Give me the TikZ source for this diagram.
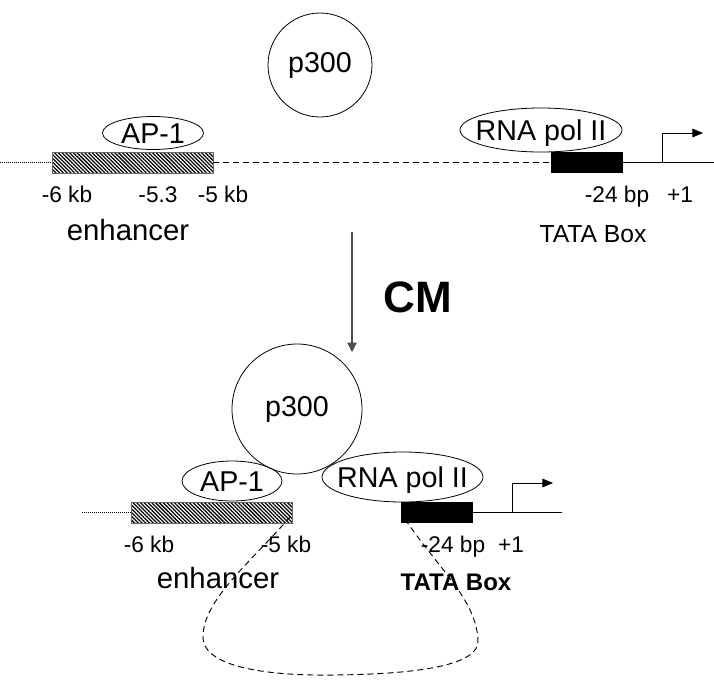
\documentclass[tikz,border=0pt]{standalone}
\usepackage{fontspec}
\setmainfont{Liberation Sans}
\usetikzlibrary{shapes.geometric,positioning,arrows.meta,patterns.meta}

\begin{document}
\begin{tikzpicture}[x=0.75pt,y=-0.75pt]
    \tikzset{protein/.style={
        ellipse, draw, line width=0.6pt, inner xsep=-12pt, inner ysep=0pt,
        text height=15.5pt, text depth=0pt, font=\fontsize{21.5}{24}\selectfont
      },
      complex/.style={circle, draw, line width=0.6pt, inner sep=0pt, font=\fontsize{21.5}{24}\selectfont},
      enhbox/.style={draw=black!60, line width=0.3pt, inner sep=0pt,
        minimum width=120.5pt, minimum height=15.5pt,
        pattern={Lines[angle=-45,distance=2pt,line width=0.95pt]}
      },
      tatabox/.style={fill=black, inner sep=0pt, minimum width=54pt, minimum height=15.5pt},
      poslabel/.style={font=\fontsize{17}{20}\selectfont, inner sep=0pt, anchor=base},
      region/.style={font=\fontsize{22}{26}\selectfont, inner sep=0pt, anchor=base},
      dna/.style={line width=0.7pt},
      dnadot/.style={line width=0.5pt, densely dotted},
      dnadash/.style={line width=0.7pt, dash pattern=on 4.5pt off 3pt},
      tss/.style={line width=0.7pt, -{Triangle[length=8pt,width=6.5pt]}},
    }
    \useasboundingbox (0,0) rectangle (714,679);

    % before: enhancer far upstream
    \node[complex, minimum size=78pt] (P1) at (320,65) {p300};
    \node[protein, minimum width=75.75pt, minimum height=24.75pt] (A1) at (153,133) {AP-1};
    \node[protein, minimum width=121.5pt, minimum height=33pt] (R1) at (541,130) {RNA pol II};
    \node[enhbox] (E1) at (132.5,162.5) {};
    \node[tatabox] (T1) at (587,162.5) {};
    \coordinate (L1) at (0,162.5);
    \coordinate (L1e) at (714,162.5);
    \draw[dnadot] (L1) -- (E1.west);
    \draw[dnadash] (E1.east) -- (T1.west);
    \draw[dna] (T1.east) -- (L1e);
    \coordinate (S1) at (662,162.5);
    \coordinate (S1e) at (703,133);
    \draw[tss] (S1) |- (S1e);

    \node[poslabel] (k6a) at (67,202) {-6 kb};
    \node[poslabel] (k53a) at (158,202) {-5.3};
    \node[poslabel] (k5a) at (223,202) {-5 kb};
    \node[poslabel] (bp24a) at (617,202) {-24 bp};
    \node[poslabel] (p1a) at (680,202) {+1};
    \node[region] (enha) at (128,240) {enhancer};
    \node[font=\fontsize{18.5}{22}\selectfont, inner sep=0pt, anchor=base] (tataa) at (593,242) {TATA Box};

    % treatment
    \coordinate (M1) at (352,232);
    \coordinate (M2) at (352,352);
    \draw[black!70, line width=1pt, -{Triangle[length=7pt,width=7pt]}] (M1) -- (M2);
    \node[font=\fontsize{33}{38}\selectfont\bfseries, inner sep=0pt, anchor=base] (CM) at (418,312) {CM};

    % after: looped DNA
    \node[complex, minimum size=97.5pt] (P2) at (297,409) {p300};
    \node[protein, minimum width=75pt, minimum height=30pt] (A2) at (232,481) {AP-1};
    \node[protein, minimum width=120.75pt, minimum height=37.5pt] (R2) at (402.5,477) {RNA pol II};
    \node[enhbox] (E2) at (212,512.5) {};
    \node[tatabox] (T2) at (437,512.5) {};
    \coordinate (L2) at (82,512.5);
    \coordinate (L2e) at (562,512.5);
    \draw[dnadot] (L2) -- (E2.west);
    \draw[dna] (T2.east) -- (L2e);
    \coordinate (S2) at (512,512.5);
    \coordinate (S2e) at (553,483);
    \draw[tss] (S2) |- (S2e);
    \coordinate (loopa) at (290,517);
    \coordinate (loopb) at (407,522);
    \draw[dnadash] (loopa) .. controls (250,563) and (203,600) .. (203,637)
      .. controls (203,670) and (280,676) .. (335,675)
      .. controls (420,674) and (480,665) .. (478,640)
      .. controls (476,600) and (440,570) .. (loopb);

    \node[poslabel] (k6b) at (149,552) {-6 kb};
    \node[poslabel] (k5b) at (286,552) {-5 kb};
    \node[poslabel] (bp24b) at (453,552) {-24 bp};
    \node[poslabel] (p1b) at (511,552) {+1};
    \node[region] (enhb) at (218,588) {enhancer};
    \node[font=\fontsize{18}{22}\selectfont\bfseries, inner sep=0pt, anchor=base] (tatab) at (456,590) {TATA Box};
\end{tikzpicture}
\end{document}
